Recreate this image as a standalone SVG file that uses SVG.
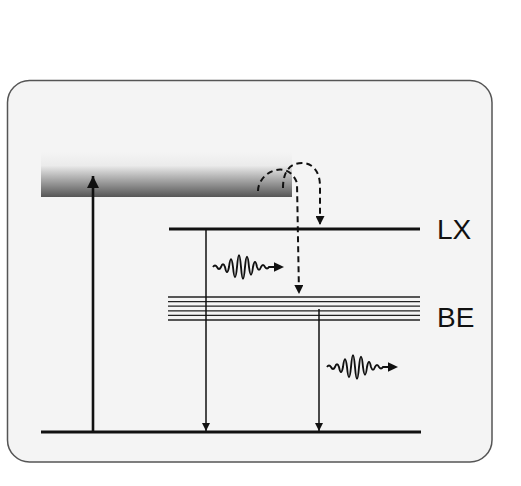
<svg xmlns="http://www.w3.org/2000/svg" width="521" height="486" viewBox="0 0 521 486">
<style>
.lvl{stroke:#111;stroke-width:3;fill:none}
.sub{stroke:#222;stroke-width:1.3;fill:none}
.thin{stroke:#111;stroke-width:1.5;fill:none}
.dash{stroke:#111;stroke-width:2;fill:none;stroke-dasharray:6 4}
.lbl{font-family:"Liberation Sans",Arial,sans-serif;font-size:28px;fill:#111}
.wave{stroke:#111;stroke-width:1.9;fill:none}
</style>
<defs>
<linearGradient id="cont" x1="0" y1="0" x2="0" y2="1">
<stop offset="0" stop-color="#f4f4f4"/>
<stop offset="0.3" stop-color="#ebebeb"/>
<stop offset="1" stop-color="#555555"/>
</linearGradient>
<marker id="ah" viewBox="0 0 10 10" refX="10" refY="5" markerWidth="5.5" markerHeight="5.5" orient="auto" markerUnits="strokeWidth">
<path d="M0,0 L10,5 L0,10 Z" fill="#111"/>
</marker>
<marker id="ahd" viewBox="0 0 10 10" refX="10" refY="5" markerWidth="4.5" markerHeight="4.5" orient="auto" markerUnits="strokeWidth">
<path d="M0,0 L10,5 L0,10 Z" fill="#111"/>
</marker>
<marker id="ahb" viewBox="0 0 10 10" refX="10" refY="5" markerWidth="4.6" markerHeight="4.6" orient="auto" markerUnits="strokeWidth">
<path d="M0,0 L10,5 L0,10 Z" fill="#111"/>
</marker>
<g id="photon">
<path class="wave" d="M0,0 q2,-3 4,0 q2,4 4,0 q2,-5.6 4,0 q2,10 4,0 q2,-15.4 4,0 q2,20.4 4,0 q2,-23.6 4,0 q2,23.6 4,0 q2,-20.4 4,0 q2,15.4 4,0 q2,-10 4,0 q2,5.6 4,0 q2,-4 4,0 q2,3 4,0 L63,0"/>
<path d="M71,0 L61,-4.8 L61,4.8 Z" fill="#111"/>
</g>
</defs>
<rect id="frame" x="7.5" y="80.5" width="484.5" height="381.5" rx="22" fill="#f4f4f4" stroke="#555" stroke-width="1.5"/>
<g id="continuum"><rect x="41" y="152" width="251" height="45" fill="url(#cont)"/></g>
<g id="ground"><line class="lvl" x1="41" y1="432" x2="421" y2="432"/></g>
<g id="LX">
<line class="lvl" x1="169" y1="229" x2="420" y2="229"/>
<text class="lbl" x="437" y="239">LX</text>
</g>
<g id="BE">
<line class="sub" x1="168" y1="297" x2="420" y2="297"/>
<line class="sub" x1="168" y1="301.6" x2="420" y2="301.6"/>
<line class="sub" x1="168" y1="306.2" x2="420" y2="306.2"/>
<line class="sub" x1="168" y1="310.8" x2="420" y2="310.8"/>
<line class="sub" x1="168" y1="315.4" x2="420" y2="315.4"/>
<line class="sub" x1="168" y1="320" x2="420" y2="320"/>
<text class="lbl" x="437" y="327">BE</text>
</g>
<g id="connectors">
<line x1="93" y1="432" x2="93" y2="176" stroke="#111" stroke-width="2.6" marker-end="url(#ahb)"/>
<line class="thin" x1="206" y1="229" x2="206" y2="431" marker-end="url(#ah)"/>
<line class="thin" x1="319" y1="309" x2="319" y2="431" marker-end="url(#ah)"/>
<path class="dash" d="M258,191 C258,172 288,158 297,183 L299,294" marker-end="url(#ahd)"/>
<path class="dash" d="M283,188 C283,170 291,163 302,163 C313,163 320,172 320,186 L320,225" marker-end="url(#ahd)"/>
</g>
<g id="photons">
<use href="#photon" x="213" y="267"/>
<use href="#photon" x="327" y="367"/>
</g>
</svg>
